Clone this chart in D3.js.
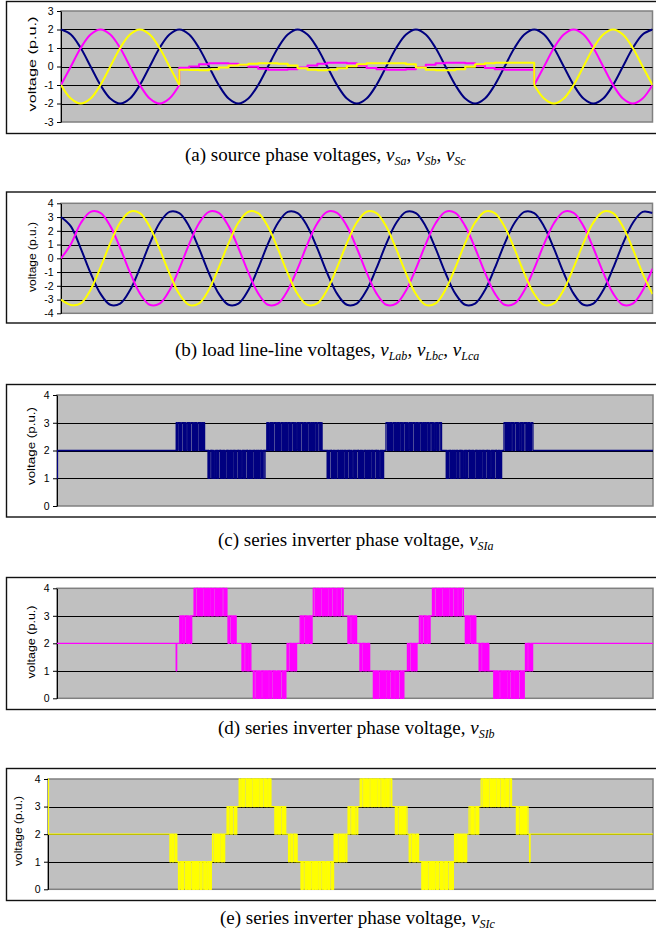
<!DOCTYPE html>
<html><head><meta charset="utf-8">
<script src="https://cdn.jsdelivr.net/npm/d3@7"></script>
<style>body{margin:0;background:#fff}svg{display:block}</style>
</head><body>
<svg id="chart" width="656" height="934"></svg>
<script>
// ================= DATA =================
const timeDomain = [0, 5];            // time, in fundamental cycles
const sampleStep = 1 / 12;            // sample spacing of the sine traces (cycles)

// (a) source phase voltages, t = 0..5 step 1/12
const vSa = [2,1.73,1,0,-1,-1.73,-2,-1.73,-1,0,1,1.73,
             2,1.73,1,0,-1,-1.73,-2,-1.73,-1,0,1,1.73,
             2,1.73,1,0,-1,-1.73,-2,-1.73,-1,0,1,1.73,
             2,1.73,1,0,-1,-1.73,-2,-1.73,-1,0,1,1.73,
             2,1.73,1,0,-1,-1.73,-2,-1.73,-1,0,1,1.73,2];
// vSb / vSc before the sag (t = 0..1), during the sag (t = 1..4), after (t = 4..5)
const vSb_pre  = [-1,0,1,1.73,2,1.73,1,0,-1,-1.73,-2,-1.73,-1];
const vSb_sag  = [-0.07,0,0.12,0.17,0.18,0.15,0.08,-0.02,-0.12,-0.17,-0.18,-0.15,
                  -0.05,0.05,0.15,0.2,0.2,0.17,0.05,-0.08,-0.15,-0.17,-0.17,-0.15,
                  -0.03,0.1,0.18,0.2,0.2,0.18,0.05,-0.08,-0.15,-0.17,-0.17,-0.17,-0.17];
const vSb_post = [-1,0,1,1.73,2,1.73,1,0,-1,-1.73,-2,-1.73,-1];
const vSc_pre  = [-1,-1.73,-2,-1.73,-1,0,1,1.73,2,1.73,1,0,-1];
const vSc_sag  = [-0.17,-0.19,-0.2,-0.15,-0.05,0.05,0.1,0.15,0.17,0.17,0.15,0.05,
                  -0.1,-0.17,-0.2,-0.18,-0.1,0.02,0.12,0.17,0.18,0.18,0.17,0.12,
                  -0.05,-0.17,-0.2,-0.2,-0.15,-0.02,0.12,0.18,0.2,0.2,0.2,0.2,0.2];
const vSc_post = [-1,-1.73,-2,-1.73,-1,0,1,1.73,2,1.73,1,0,-1];
const sagStart = 1, sagEnd = 4;

// (b) load line-line voltages, t = 0..5 step 1/12
const vLab = [3.0,2.32,0.72,-1.07,-2.57,-3.38,-3.29,-2.32,-0.72,1.07,2.57,3.38,
              3.29,2.32,0.72,-1.07,-2.57,-3.38,-3.29,-2.32,-0.72,1.07,2.57,3.38,
              3.29,2.32,0.72,-1.07,-2.57,-3.38,-3.29,-2.32,-0.72,1.07,2.57,3.38,
              3.29,2.32,0.72,-1.07,-2.57,-3.38,-3.29,-2.32,-0.72,1.07,2.57,3.38,
              3.29,2.32,0.72,-1.07,-2.57,-3.38,-3.29,-2.32,-0.72,1.07,2.57,3.38,3.29];
const vLbc = [0,1.03,2.55,3.38,3.30,2.34,0.75,-1.03,-2.55,-3.38,-3.30,-2.34,
              -0.75,1.03,2.55,3.38,3.30,2.34,0.75,-1.03,-2.55,-3.38,-3.30,-2.34,
              -0.75,1.03,2.55,3.38,3.30,2.34,0.75,-1.03,-2.55,-3.38,-3.30,-2.34,
              -0.75,1.03,2.55,3.38,3.30,2.34,0.75,-1.03,-2.55,-3.38,-3.30,-2.34,
              -0.75,1.03,2.55,3.38,3.30,2.34,0.75,-1.03,-2.55,-3.38,-3.30,-2.34,-0.75];
const vLca = [-3.0,-3.39,-3.28,-2.29,-0.68,1.10,2.60,3.39,3.28,2.29,0.68,-1.10,
              -2.60,-3.39,-3.28,-2.29,-0.68,1.10,2.60,3.39,3.28,2.29,0.68,-1.10,
              -2.60,-3.39,-3.28,-2.29,-0.68,1.10,2.60,3.39,3.28,2.29,0.68,-1.10,
              -2.60,-3.39,-3.28,-2.29,-0.68,1.10,2.60,3.39,3.28,2.29,0.68,-1.10,
              -2.60,-3.39,-3.28,-2.29,-0.68,1.10,2.60,3.39,3.28,2.29,0.68,-1.10,-2.60];

// (c)-(e) series inverter phase voltages: resting level, switching blocks [tStart, tEnd, low, high], single spikes [t, level]
const restLevel = 2;
const vSIa_blocks = [[1.0,1.245,2,3],[1.255,1.745,1,2],[1.76,2.235,2,3],[2.255,2.74,1,2],
                     [2.76,3.235,2,3],[3.255,3.73,1,2],[3.75,3.995,2,3]];
const vSIa_spikes = [[0.0,1]];
const vSIb_blocks = [[1.03,1.13,2,3],[1.15,1.43,3,4],[1.43,1.51,2,3],[1.54,1.63,1,2],[1.64,1.92,0,1],[1.93,2.01,1,2],
                     [2.04,2.14,2,3],[2.15,2.41,3,4],[2.43,2.52,2,3],[2.53,2.63,1,2],[2.64,2.91,0,1],[2.94,3.02,1,2],
                     [3.04,3.13,2,3],[3.15,3.41,3,4],[3.42,3.52,2,3],[3.53,3.63,1,2],[3.65,3.92,0,1],[3.93,3.99,1,2]];
const vSIb_spikes = [[1.0,1]];
const vSIc_blocks = [[1.0,1.07,1,2],[1.075,1.35,0,1],[1.36,1.46,1,2],[1.48,1.56,2,3],[1.58,1.85,3,4],[1.86,1.97,2,3],
                     [1.98,2.07,1,2],[2.08,2.36,0,1],[2.365,2.47,1,2],[2.48,2.56,2,3],[2.58,2.85,3,4],[2.86,2.97,2,3],
                     [2.98,3.07,1,2],[3.075,3.35,0,1],[3.36,3.46,1,2],[3.48,3.56,2,3],[3.58,3.84,3,4],[3.86,3.97,2,3]];
const vSIc_spikes = [[0.0,4],[3.98,1]];
const pwmDuty = [0.55,0.8,0.35,0.9,0.6,0.25,0.75,0.5,0.95,0.4,0.7,0.3,0.85,0.45,0.65];
const pwmCarrier = 0.015;             // switching period (cycles)

// tick labels
const ticksA = [-3,-2,-1,0,1,2,3];
const ticksB = [-4,-3,-2,-1,0,1,2,3,4];
const ticksC = [0,1,2,3,4];
const yTitle = "voltage (p.u.)";
const captions = [
  ["(a) source phase voltages, ", ["Sa","Sb","Sc"]],
  ["(b) load line-line voltages, ", ["Lab","Lbc","Lca"]],
  ["(c) series inverter phase voltage, ", ["SIa"]],
  ["(d) series inverter phase voltage, ", ["SIb"]],
  ["(e) series inverter phase voltage, ", ["SIc"]]
];

// ================= LAYOUT / STYLE =================
const C = {blue:"#000080", mag:"#FF00FF", yel:"#FFFF00"};
const layout = [
  {frame:[6,1,132],   plot:[61,652.5,11,122],    label:[31.5,64,95],   cap:[185,161]},
  {frame:[6,191.5,131], plot:[61,652.5,203.3,313.3], label:[31.5,257,70], cap:[175,356]},
  {frame:[6,384,132.5], plot:[57,653,395,506],    label:[30.5,446,78],  cap:[218,546]},
  {frame:[6,577,132], plot:[57,653,588.3,698.3],  label:[30.5,642,73],  cap:[218,734]},
  {frame:[6,768,132], plot:[48,653,779,889.3],    label:[17.5,831,70],  cap:[220,924]}
];
const svg = d3.select("#chart");
const defs = svg.append("defs");

function makePanel(i, yDomain, yTicks) {
  const L = layout[i];
  const g = svg.append("g");
  g.append("rect").attr("x", L.frame[0]+0.5).attr("y", L.frame[1]+0.5)
    .attr("width", 700).attr("height", L.frame[2])
    .attr("fill", "#fff").attr("stroke", "#111").attr("stroke-width", 1.4);
  const [x0,x1,y0,y1] = L.plot;
  const x = d3.scaleLinear().domain(timeDomain).range([x0, x1]);
  const y = d3.scaleLinear().domain(yDomain).range([y1, y0]);
  g.append("rect").attr("x", x0).attr("y", y0).attr("width", x1-x0).attr("height", y1-y0)
    .attr("fill", "#C0C0C0").attr("stroke", "#808080").attr("stroke-width", 1.5);
  g.append("g").selectAll("line").data(yTicks.slice(1, -1)).join("line")
    .attr("x1", x0).attr("x2", x1)
    .attr("y1", d => Math.round(y(d))+0.5).attr("y2", d => Math.round(y(d))+0.5)
    .attr("stroke", "#000").attr("stroke-width", 1);
  const ax = g.append("g").attr("transform", `translate(${x0},0)`)
    .call(d3.axisLeft(y).tickValues(yTicks).tickFormat(d => String(d)).tickSize(4).tickPadding(3.5).tickSizeOuter(0));
  ax.selectAll("text").attr("font-family", "'Liberation Sans', Arial, sans-serif").attr("font-size", "10.5px").attr("fill", "#000");
  ax.selectAll("line,path").attr("stroke", "#000");
  g.append("text")
    .attr("transform", `translate(${L.label[0]},${L.label[1]}) rotate(-90)`)
    .attr("text-anchor", "middle").attr("dominant-baseline", "central")
    .attr("font-family", "'Liberation Sans', Arial, sans-serif").attr("font-size", "11.5px")
    .attr("textLength", L.label[2]).attr("lengthAdjust", "spacingAndGlyphs")
    .text(yTitle);
  const cid = "clip" + i;
  defs.append("clipPath").attr("id", cid).append("rect")
    .attr("x", x0).attr("y", y0-2).attr("width", x1-x0).attr("height", y1-y0+4);
  const plot = g.append("g").attr("clip-path", `url(#${cid})`);
  // caption
  const cap = captions[i];
  const t = svg.append("text").attr("x", L.cap[0]).attr("y", L.cap[1])
    .attr("font-family", "'Liberation Serif', 'Times New Roman', serif").attr("font-size", "19px").attr("fill", "#000");
  t.append("tspan").text(cap[0]);
  cap[1].forEach((s, k) => {
    t.append("tspan").attr("font-style", "italic").text("v");
    t.append("tspan").attr("font-style", "italic").attr("font-size", "12px").attr("dy", 4).text(s);
    t.append("tspan").attr("dy", -4).text(k < cap[1].length-1 ? ", " : "");
  });
  return {plot, x, y};
}

function sinePts(vals, t0) { return vals.map((v, k) => [t0 + k*sampleStep, v]); }
function drawLine(P, pts, color, curve, w) {
  const line = d3.line().x(d => P.x(d[0])).y(d => P.y(d[1])).curve(curve);
  P.plot.append("path").attr("d", line(pts)).attr("fill", "none")
    .attr("stroke", color).attr("stroke-width", w).attr("stroke-linejoin", "round");
}
const smooth = d3.curveCatmullRom.alpha(0.5);

// ---- (a)
const A = makePanel(0, [-3,3], ticksA);
drawLine(A, sinePts(vSa, 0), C.blue, smooth, 2);
[[vSb_pre, vSb_sag, vSb_post, C.mag], [vSc_pre, vSc_sag, vSc_post, C.yel]].forEach(([pre, sag, post, col]) => {
  drawLine(A, sinePts(pre, 0), col, smooth, 2);
  const sp = [[sagStart, pre[pre.length-1]]].concat(sinePts(sag, sagStart)).concat([[sagEnd, post[0]]]);
  drawLine(A, sp, col, d3.curveStepAfter, 2);
  drawLine(A, sinePts(post, sagEnd), col, smooth, 2);
});

// ---- (b)
const B = makePanel(1, [-4,4], ticksB);
drawLine(B, sinePts(vLab, 0), C.blue, smooth, 2);
drawLine(B, sinePts(vLbc, 0), C.mag, smooth, 2);
drawLine(B, sinePts(vLca, 0), C.yel, smooth, 2);

// ---- (c)-(e)
function pwmPts(blocks, spikes) {
  const ev = blocks.map(b => ({t:b[0], b})).concat(spikes.map(s => ({t:s[0], s})));
  ev.sort((a, b) => a.t - b.t);
  const pts = [[timeDomain[0], restLevel]];
  let rest = restLevel, di = 0;
  ev.forEach(e => {
    if (e.s) {
      pts.push([e.s[0], e.s[1]]); pts.push([e.s[0] + 0.004, rest]);
      return;
    }
    const [t0, t1, lo, hi] = e.b;
    const n = Math.max(1, Math.round((t1 - t0) / pwmCarrier));
    const dt = (t1 - t0) / n;
    for (let i = 0; i < n; i++) {
      const d = pwmDuty[di++ % pwmDuty.length];
      pts.push([t0 + i*dt, hi]); pts.push([t0 + (i + d)*dt, lo]);
    }
    const nb = blocks[blocks.indexOf(e.b) + 1];
    if (nb && nb[0] - t1 < 0.06) rest = (nb[2] === hi || nb[3] === hi) ? hi : lo;
    else rest = restLevel;
    pts.push([t1, rest]);
  });
  pts.push([timeDomain[1], restLevel]);
  return pts;
}
const Cp = makePanel(2, [0,4], ticksC);
drawLine(Cp, pwmPts(vSIa_blocks, vSIa_spikes), C.blue, d3.curveStepAfter, 1.3);
const Dp = makePanel(3, [0,4], ticksC);
drawLine(Dp, pwmPts(vSIb_blocks, vSIb_spikes), C.mag, d3.curveStepAfter, 1.3);
const Ep = makePanel(4, [0,4], ticksC);
drawLine(Ep, pwmPts(vSIc_blocks, vSIc_spikes), C.yel, d3.curveStepAfter, 1.3);
</script>
</body></html>
